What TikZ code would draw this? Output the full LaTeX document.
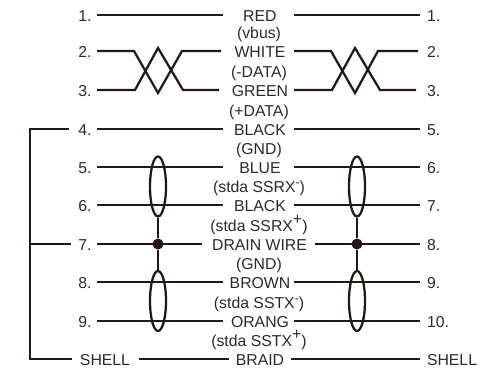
\documentclass[tikz,border=0pt]{standalone}
\usepackage{fontspec}
\setmainfont{Liberation Sans}
\usetikzlibrary{shapes.geometric}
\definecolor{ink}{HTML}{231815}
\definecolor{txt}{HTML}{2A2A2A}
\newcommand\sh[1]{\hspace*{#1pt}}
\newcommand\supminus{\raisebox{5pt}{\fontsize{9}{9}\selectfont -}}
\newcommand\supplus{\raisebox{5.5pt}{\fontsize{12}{12}\selectfont +}}
\tikzset{
  wire/.style={draw=ink,line width=1.7pt,line join=miter},
  lab/.style={inner sep=0pt,outer sep=0pt,text=txt,font=\fontsize{11.85}{12}\selectfont,text height=9.8pt,text depth=0pt},
  wd/.style={lab,minimum width=#1*0.75pt},
  rpin/.style={lab,anchor=west,inner xsep=5.25pt},
  shieldoval/.style={ellipse,draw=ink,line width=1.7pt,inner sep=0pt,minimum width=16*0.75pt,minimum height=#1*0.75pt},
  dot/.style={circle,fill=ink,inner sep=0pt,minimum size=11*0.75pt}
}
\begin{document}
\begin{tikzpicture}[x=0.75pt,y=-0.75pt]
\useasboundingbox (0,0) rectangle (488,368);
% left pins (node right edge = start of the wire)
\node[wd=24] (l1) at (85,15) {1.};
\node[wd=24] (l2) at (85,51) {2.};
\node[wd=24] (l3) at (85,90) {3.};
\node[wd=28] (l4) at (83,129) {\sh{3}4.};
\node[wd=24] (l5) at (85,167) {5.};
\node[wd=24] (l6) at (85,205) {6.};
\node[wd=26] (l7) at (84,244) {\sh{1.5}7.};
\node[wd=24] (l8) at (85,282) {8.};
\node[wd=24] (l9) at (85,321) {9.};
\node[wd=67] (ls) at (105,359) {SHELL};
% centre labels (node edges = wire ends)
\node[wd=71] (c1) at (258.5,15) {\sh{2}RED};
\node[wd=73] (c2) at (257.5,51) {\sh{3.75}WHITE};
\node[wd=75] (c3) at (256.5,90) {\sh{5.25}GREEN};
\node[wd=71] (c4) at (258.5,129) {\sh{2.25}BLACK};
\node[wd=71] (c5) at (258.5,167) {\sh{2.25}BLUE};
\node[wd=71] (c6) at (258.5,205) {\sh{2.25}BLACK};
\node[wd=113] (c7) at (258.5,244) {\sh{1.5}DRAIN WIRE};
\node[wd=71] (c8) at (258.5,282) {\sh{2.25}BROWN};
\node[wd=71] (c9) at (258.5,321) {\sh{2.25}ORANG};
\node[wd=62] (cs) at (260,359) {BRAID};
% signal notes
\node[lab] (n1) at (259,32) {(vbus)};
\node[lab] (n2) at (259,71.3) {(-DATA)};
\node[lab] (n3) at (259,110) {(+DATA)};
\node[lab] (n4) at (259,148.3) {(GND)};
\node[lab] (n5) at (259,186.3) {(stda SSRX\supminus)};
\node[lab] (n6) at (259,225) {(stda SSRX\supplus)};
\node[lab] (n7) at (259,263) {(GND)};
\node[lab] (n8) at (259,302.3) {(stda SSTX\supminus)};
\node[lab] (n9) at (259,340.3) {(stda SSTX\supplus)};
% right pins
\node[rpin] (r1) at (420,15) {1.};
\node[rpin] (r2) at (418,51) {\sh{1.5}2.};
\node[rpin] (r3) at (416,90) {\sh{3}3.};
\node[rpin] (r4) at (420,129) {5.};
\node[rpin] (r5) at (420,167) {6.};
\node[rpin] (r6) at (420,205) {7.};
\node[rpin] (r7) at (420,244) {8.};
\node[rpin] (r8) at (420,282) {9.};
\node[rpin] (r9) at (420,321) {10.};
\node[rpin] (rs) at (420,359) {SHELL};
% twist bends
\coordinate (a1) at (134,51); \coordinate (a2) at (158,93); \coordinate (a3) at (182,51);
\coordinate (b1) at (135,90); \coordinate (b2) at (158,48); \coordinate (b3) at (183,90);
\coordinate (d1) at (331,51); \coordinate (d2) at (355,93); \coordinate (d3) at (378,51);
\coordinate (f1) at (332,90); \coordinate (f2) at (355,48); \coordinate (f3) at (380,90);
% straight wires
\foreach \i in {1,4,5,6,7,8,9,s}{
  \draw[wire] (l\i.east) -- (c\i.west);
}
\draw[wire] (c1.east) -- (r1.west);
\draw[wire] (c4.east) -- (r4.west);
\draw[wire] (c5.east) -- (r5.west);
\draw[wire] (c6.east) -- (r6.west);
\draw[wire] (c7.east) -- (r7.west);
\draw[wire] (c8.east) -- (r8.west);
\draw[wire] (c9.east) -- (r9.west);
\draw[wire] (cs.east) -- (rs.west);
% twisted pairs
\draw[wire] (l2.east) -- (a1) -- (a2) -- (a3) -- (c2.west);
\draw[wire] (l3.east) -- (b1) -- (b2) -- (b3) -- (c3.west);
\draw[wire] (c2.east) -- (d1) -- (d2) -- (d3) -- (r2.west);
\draw[wire] (c3.east) -- (f1) -- (f2) -- (f3) -- (r3.west);
% shields
\node[shieldoval=60] (e1) at (158,186.5) {};
\node[shieldoval=60] (e2) at (158,301) {};
\node[shieldoval=60] (e3) at (357,186.5) {};
\node[shieldoval=60] (e4) at (357,301) {};
\node[dot] (j1) at (158,244) {};
\node[dot] (j2) at (357,244) {};
\draw[wire] (e1.south) -- (j1) -- (e2.north);
\draw[wire] (e3.south) -- (j2) -- (e4.north);
% drain bracket
\coordinate (t) at (30,129);
\coordinate (m) at (30,244);
\coordinate (u) at (30,359);
\draw[wire] (l4.west) -- (t) -- (u) -- (ls.west);
\draw[wire] (m) -- (l7.west);
\end{tikzpicture}
\end{document}
